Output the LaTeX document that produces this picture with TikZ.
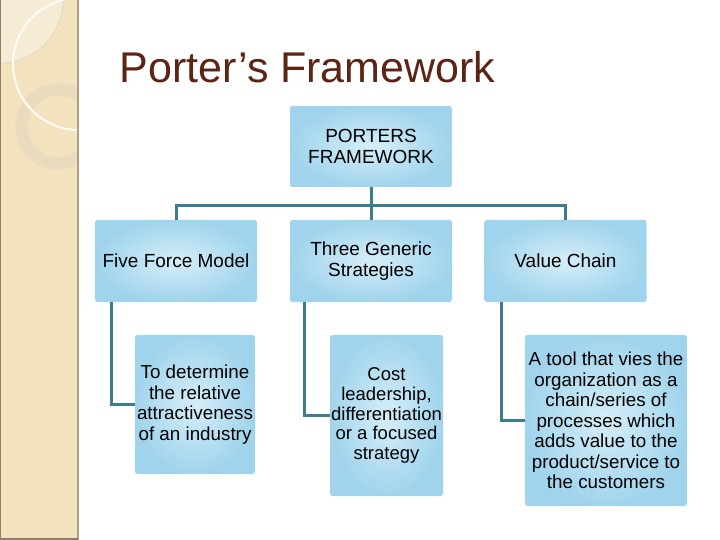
\documentclass[tikz,border=0pt]{standalone}
\usepackage{fontspec}
\setmainfont{Liberation Sans}
\usepackage{xcolor}
\usepackage{tikz}
\usetikzlibrary{positioning}

\definecolor{stripbg}{RGB}{242,226,190}
\definecolor{stripliner}{RGB}{246,236,214}
\definecolor{stripring}{RGB}{232,219,190}
\definecolor{stripedge}{RGB}{176,160,128}
\definecolor{titlebrown}{RGB}{92,36,20}
\definecolor{linkteal}{RGB}{60,125,140}
\definecolor{boxin}{RGB}{214,238,249}
\definecolor{boxout}{RGB}{160,212,236}

\begin{document}
\begin{tikzpicture}[
    x=1pt, y=-1pt,
    box/.style={rounded corners=2.5pt, inner color=boxin, outer color=boxout,
                align=center, inner sep=0pt, font=\fontsize{19}{21.5}\selectfont},
    subbox/.style={box, font=\fontsize{18.8}{20.5}\selectfont},
    link/.style={draw=linkteal, line width=3pt}
]
    \useasboundingbox (0,0) rectangle (720,540);
    \fill[white] (0,0) rectangle (720,540);
    \fill[stripbg] (0,0) rectangle (78,540);
    \begin{scope}
        \clip (0,0) rectangle (78,540);
        \fill[stripliner, draw=stripedge!45, line width=0.6pt] (0,0) circle (63);
        \draw[stripring, line width=12pt] (58.5,126.5) circle (37);
        \draw[white!85!stripbg, line width=2pt] (79,64) circle (66);
    \end{scope}
    \draw[stripedge, line width=2pt] (78,0) -- (78,540);
    \draw[stripedge!80!black, line width=1.5pt] (0.5,0) -- (0.5,539) -- (78,539);

    \node[anchor=base west, text=titlebrown, font=\fontsize{43}{50}\selectfont]
        (title) at (116,83) {Porter’s Framework};

    \node[box, minimum width=162pt, minimum height=81pt] (pf) at (371,146.5) {PORTERS\\FRAMEWORK};
    \node[box, minimum width=162pt, minimum height=82pt] (ffm) at (176,261) {Five Force Model};
    \node[box, minimum width=162pt, minimum height=82pt] (tgs) at (371,261) {Three Generic\\Strategies};
    \node[box, minimum width=162pt, minimum height=82pt] (vc) at (565.5,261) {Value Chain};

    \node[subbox, minimum width=120pt, minimum height=139pt] (ffmd) at (195,404.5)
        {To determine\\the relative\\attractiveness\\of an industry};
    \node[subbox, minimum width=113pt, minimum height=161pt, font=\fontsize{18.5}{19.7}\selectfont] (tgsd) at (386.5,415.5)
        {Cost\\leadership,\\differentiation\\or a focused\\strategy};
    \node[subbox, minimum width=162pt, minimum height=171pt] (vcd) at (606,420.5)
        {A tool that vies the\\organization as a\\chain/series of\\processes which\\adds value to the\\product/service to\\the customers};

    \coordinate (bar) at (371,206);
    \draw[link] (ffm.north) |- (bar) -| (vc.north);
    \draw[link] (pf.south) -- (tgs.north);
    \draw[link] ([xshift=17pt]ffm.south west) |- (ffmd.west);
    \draw[link] ([xshift=15pt]tgs.south west) |- (tgsd.west);
    \draw[link] ([xshift=17pt]vc.south west) |- (vcd.west);
\end{tikzpicture}
\end{document}
